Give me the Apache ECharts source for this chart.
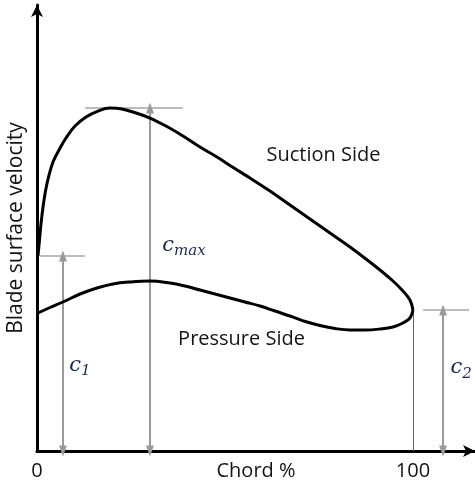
<!DOCTYPE html>
<html>
<head>
<meta charset="utf-8">
<script src="https://cdn.jsdelivr.net/npm/echarts@6/dist/echarts.min.js"></script>
<style>
  html, body { margin: 0; padding: 0; background: #fff; }
  #chart { width: 475px; height: 485px; }
</style>
</head>
<body>
<div id="chart"></div>
<script>
// Blade surface velocity distribution along the chord (schematic)
const suctionChord = [0.27, 0.66, 1.06, 1.6, 2.26, 3.06, 4.26, 5.85, 7.71, 10.11, 13.03, 16.22, 19.41, 22.61, 26.33, 30.05, 34.31, 38.83, 43.35, 47.87, 52.39, 56.65, 61.97, 67.29, 72.61, 77.93, 83.24, 87.5, 91.22, 94.68, 97.34, 99.2, 100];
const suctionVel   = [52.5, 56.77, 61.07, 65.64, 69.95, 73.72, 77.75, 80.98, 84.21, 87.44, 89.86, 91.47, 92.28, 92.01, 90.93, 89.59, 87.44, 84.75, 81.79, 79.1, 76.14, 73.45, 69.95, 66.18, 62.42, 58.65, 54.88, 51.65, 48.69, 45.74, 43.05, 40.62, 37.93];

const pressureChord = [0.27, 3.46, 6.91, 11.44, 15.96, 20.21, 24.73, 30.05, 35.37, 39.36, 43.35, 47.34, 51.33, 55.32, 59.31, 63.3, 67.29, 71.81, 75.27, 79.26, 83.24, 87.23, 91.22, 94.68, 97.34, 99.2, 100];
const pressureVel   = [37.13, 38.61, 40.09, 42.24, 43.85, 44.93, 45.47, 45.74, 45.2, 44.39, 43.31, 42.24, 41.16, 40.09, 39.01, 37.66, 36.32, 34.71, 33.76, 32.96, 32.55, 32.55, 32.82, 33.36, 34.44, 35.78, 37.93];

// chord ticks that carry a label
const chordTickLabels = [0, 100];

// characteristic velocities: inlet, peak, outlet
const c1Value = 52.5, cmaxValue = 92.28, c2Value = 37.93;
const c1Chord = 6.9, cmaxChord = 30.05, c2Chord = 108;
const c1Guide = [0.8, 12.8], cmaxGuide = [12.8, 38.8], c2Guide = [102.7, 114.9];
const trailingEdgeChord = 100;

// text annotations: [chord, velocity]
const suctionLabelAt = [76.2, 79.6];
const pressureLabelAt = [54.4, 30.1];
const cmaxLabelAt = [39.1, 55.4];
const c1LabelAt = [11.4, 23.0];
const c2LabelAt = [112.8, 22.4];

const zip = (xs, ys) => xs.map((x, i) => [x, ys[i]]);

const textFont = '"Open Sans", "Noto Sans", sans-serif';
const mathFont = '"DejaVu Serif", serif';
const mathRich = {
  c: { fontFamily: mathFont, fontStyle: 'italic', fontSize: 21, color: '#1c2a4a' },
  s: { fontFamily: mathFont, fontStyle: 'italic', fontSize: 15, color: '#1c2a4a', padding: [12, 0, 0, 0] }
};

const chart = echarts.init(document.getElementById('chart'), null, { renderer: 'canvas' });

chart.setOption({
  animation: false,
  backgroundColor: '#fff',
  grid: { left: 37, right: 0, top: 5, bottom: 34, containLabel: false, outerBoundsMode: 'none' },
  xAxis: {
    type: 'value', min: 0, max: 116.5, interval: 100,
    name: 'Chord %', nameLocation: 'middle', nameGap: 10, nameMoveOverlap: false,
    nameTextStyle: { fontFamily: textFont, fontSize: 20, color: '#141414', verticalAlign: 'top' },
    axisLine: { show: true, onZero: false, symbol: ['none', 'arrow'], symbolSize: [9, 12],
      lineStyle: { color: '#000', width: 3 } },
    axisTick: { show: false },
    splitLine: { show: false },
    axisLabel: {
      margin: 10, fontFamily: textFont, fontSize: 20, color: '#141414',
      showMaxLabel: false,
      formatter: v => (chordTickLabels.indexOf(v) >= 0 ? String(v) : '')
    }
  },
  yAxis: {
    type: 'value', min: 0, max: 120,
    name: 'Blade surface velocity', nameLocation: 'middle', nameGap: 10, nameMoveOverlap: false,
    nameTextStyle: { fontFamily: textFont, fontSize: 21, color: '#141414' },
    axisLine: { show: true, onZero: false, symbol: ['none', 'arrow'], symbolSize: [9, 12],
      lineStyle: { color: '#000', width: 3 } },
    axisTick: { show: false },
    axisLabel: { show: false },
    splitLine: { show: false }
  },
  series: [
    {
      // guide lines at c1, cmax, c2
      type: 'scatter', data: [], silent: true, z: 1,
      markLine: {
        silent: true, symbol: ['none', 'none'], label: { show: false },
        lineStyle: { color: '#a6a6a6', width: 1.5, type: 'solid' },
        data: [
          [{ coord: [c1Guide[0], c1Value] }, { coord: [c1Guide[1], c1Value] }],
          [{ coord: [cmaxGuide[0], cmaxValue] }, { coord: [cmaxGuide[1], cmaxValue] }],
          [{ coord: [c2Guide[0], c2Value] }, { coord: [c2Guide[1], c2Value] }]
        ]
      }
    },
    {
      // trailing edge drop line
      type: 'scatter', data: [], silent: true, z: 1,
      markLine: {
        silent: true, symbol: ['none', 'none'], label: { show: false },
        lineStyle: { color: '#666', width: 1, type: 'solid' },
        data: [[{ coord: [trailingEdgeChord, 0] }, { coord: [trailingEdgeChord, c2Value] }]]
      }
    },
    {
      // dimension arrows
      type: 'scatter', data: [], silent: true, z: 2,
      markLine: {
        silent: true, symbol: ['triangle', 'triangle'], symbolSize: [8, 11],
        label: { show: false },
        lineStyle: { color: '#9a9a9a', width: 2, type: 'solid' },
        data: [
          [{ coord: [c1Chord, 0] }, { coord: [c1Chord, c1Value] }],
          [{ coord: [cmaxChord, 0] }, { coord: [cmaxChord, cmaxValue] }],
          [{ coord: [c2Chord, 0] }, { coord: [c2Chord, c2Value] }]
        ]
      }
    },
    {
      name: 'Suction Side', type: 'line', smooth: 0.4, symbol: 'none', z: 5,
      lineStyle: { color: '#000', width: 3 },
      data: zip(suctionChord, suctionVel)
    },
    {
      name: 'Pressure Side', type: 'line', smooth: 0.4, symbol: 'none', z: 5,
      lineStyle: { color: '#000', width: 3 },
      data: zip(pressureChord, pressureVel)
    },
    {
      // text annotations
      type: 'scatter', symbolSize: 0, silent: true, z: 6,
      itemStyle: { opacity: 1 },
      label: { show: true, position: 'inside', fontFamily: textFont, fontSize: 20, color: '#141414', rich: mathRich },
      data: [
        { value: suctionLabelAt, label: { formatter: 'Suction Side' } },
        { value: pressureLabelAt, label: { formatter: 'Pressure Side' } },
        { value: cmaxLabelAt, label: { formatter: '{c|c}{s|max}' } },
        { value: c1LabelAt, label: { formatter: '{c|c}{s|1}' } },
        { value: c2LabelAt, label: { formatter: '{c|c}{s|2}' } }
      ]
    }
  ]
});
</script>
</body>
</html>
